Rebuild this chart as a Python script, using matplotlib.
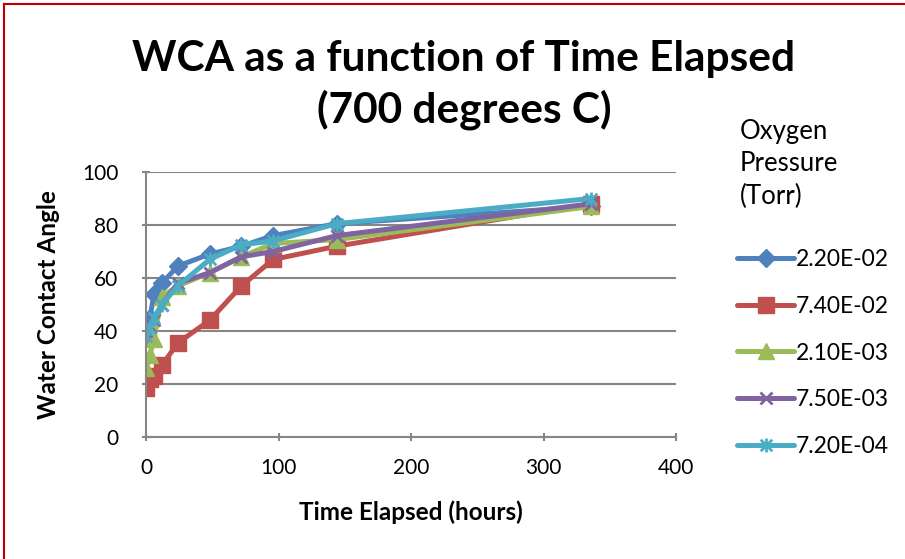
import matplotlib
matplotlib.use("Agg")
import matplotlib.pyplot as plt
from matplotlib.path import Path
from matplotlib.lines import Line2D

hours = [0, 3, 6, 12, 24, 48, 72, 96, 144, 336]
series_labels = ["2.20E-02", "7.40E-02", "2.10E-03", "7.50E-03", "7.20E-04"]
wca_220e02 = [38, 45, 54, 58, 64.5, 69, 72, 76, 80.5, 87]
wca_740e02 = [18.5, 22, 23, 27, 35.5, 44, 57, 67, 72, 88]
wca_210e03 = [26, 31, 37, 53, 57, 62, 68, 73, 74.5, 87]
wca_750e03 = [40, 42, 44, 50, 58, 62, 68, 70, 76, 88]
wca_720e04 = [38, 41, 45, 50, 57, 67, 72.5, 74, 80.5, 90]
x_ticks = [0, 100, 200, 300, 400]
y_ticks = [0, 20, 40, 60, 80, 100]

colors = ["#4F81BD", "#C0504D", "#9BBB59", "#8064A2", "#4BACC6"]

# Excel-style star marker: X with vertical line
star = Path([(-1, -1), (1, 1), (-1, 1), (1, -1), (0, -1.2), (0, 1.2)],
            [Path.MOVETO, Path.LINETO, Path.MOVETO, Path.LINETO, Path.MOVETO, Path.LINETO])
markers = ["D", "s", "^", "x", star]
msizes = [9, 11, 11, 9, 10]

plt.rcParams["font.family"] = ["Lato", "DejaVu Sans"]

fig = plt.figure(figsize=(9.05, 5.59), dpi=100)
ax = fig.add_axes([146 / 905, 1 - 437 / 559, 530 / 905, 265 / 559])

data = [wca_220e02, wca_740e02, wca_210e03, wca_750e03, wca_720e04]
handles = []
for vals, c, m, ms, lab in zip(data, colors, markers, msizes, series_labels):
    mew = 2 if (isinstance(m, str) and m == "x") or m is star else 1
    (ln,) = ax.plot(hours, vals, color=c, lw=3.6, marker=m, ms=ms, mfc=c, mec=c,
                    mew=mew, label=lab, solid_joinstyle="round", solid_capstyle="round")
    handles.append(ln)

ax.set_xlim(0, 400)
ax.set_ylim(0, 100)
ax.set_xticks(x_ticks)
ax.set_yticks(y_ticks)
ax.tick_params(axis="both", labelsize=15, color="#868686", width=1.5, length=6, direction="inout")
ax.tick_params(axis="x", pad=12)
ax.tick_params(axis="y", pad=17)
ax.yaxis.grid(True, color="#868686", lw=1.5)
ax.set_axisbelow(True)
for s in ["top", "right"]:
    ax.spines[s].set_visible(False)
for s in ["left", "bottom"]:
    ax.spines[s].set_color("#868686")
    ax.spines[s].set_linewidth(1.5)

ax.set_xlabel("Time Elapsed (hours)", fontsize=17.5, fontweight="bold", labelpad=16)
ax.set_ylabel("Water Contact Angle", fontsize=17.5, fontweight="bold", labelpad=16)

fig.text(464 / 905, 1 - 85 / 559, "WCA as a function of Time Elapsed\n(700 degrees C)",
         ha="center", va="center", fontsize=30.5, fontweight="bold", linespacing=1.33)

fig.text(740 / 905, 1 - 164 / 559, "Oxygen\nPressure\n(Torr)", ha="left", va="center",
         fontsize=18.5, linespacing=1.35)

leg = fig.legend(handles=handles, loc="upper left", bbox_to_anchor=(728 / 905, 1 - 240 / 559),
                 frameon=False, fontsize=16.5, handlelength=2.5, handletextpad=0.05,
                 labelspacing=1.12, borderaxespad=0)

# red border on left/top (chart frame)
fig.add_artist(Line2D([3.5 / 905, 3.5 / 905], [0, 1 - 3.5 / 559], color="#C00000", lw=1.5))
fig.add_artist(Line2D([3.5 / 905, 1], [1 - 3.5 / 559, 1 - 3.5 / 559], color="#C00000", lw=1.5))

fig.savefig("out.png", dpi=100)
